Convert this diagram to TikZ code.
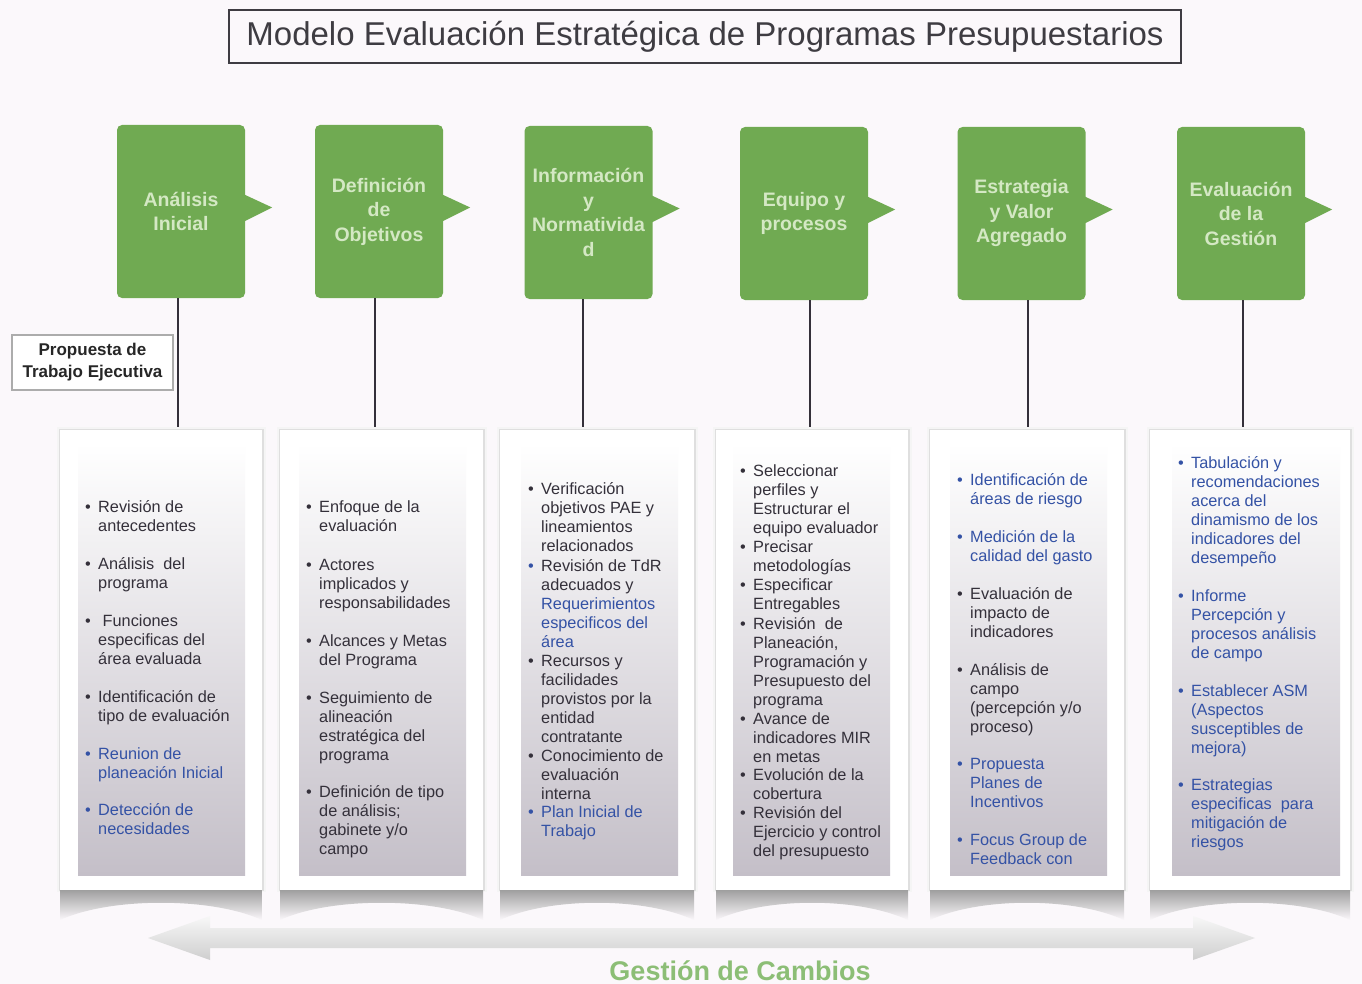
\documentclass[tikz,border=0pt]{standalone}
\usepackage{fontspec}
\setmainfont{Liberation Sans}
\usetikzlibrary{calc}
\definecolor{bg}{RGB}{251,248,251}
\definecolor{grn}{RGB}{112,170,82}
\definecolor{grntxt}{RGB}{212,232,196}
\definecolor{dk}{RGB}{52,48,58}
\definecolor{blu}{RGB}{52,82,165}
\definecolor{panelbot}{RGB}{196,191,200}
\definecolor{gc}{RGB}{140,190,118}
\definecolor{ttl}{RGB}{62,60,66}
\tikzset{
 gbox/.style={rectangle, rounded corners=5pt, fill=grn, minimum width=128pt, minimum height=173pt, inner sep=0pt, align=center, text=grntxt, font=\fontsize{19.5}{24.5}\selectfont\bfseries},
 itm/.style={anchor=north west, inner sep=0pt, text=dk, font=\fontsize{16.3}{19}\selectfont},
 stem/.style={line width=2.5pt, draw=dk},
}
\newcommand\itm[5]{\node[itm, text=#4] (#1) at (#2,#3-7.3) {\makebox[13pt][l]{\strut•}\parbox[t]{180pt}{\raggedright\strut #5}};}
\newcommand\callout[1]{\fill[grn] ($(#1.east)+(-1,-17)$) -- ($(#1.east)+(27,-4)$) -- ($(#1.east)+(-1,10)$) -- cycle;}
\newcommand\panel[4]{%
 \fill[gray!8] (#1-3.5,427) rectangle (#2+3.5,892);
 \fill[gray!25] (#1-1.5,429) rectangle (#2+1.5,891);
 \fill[white] (#1,430) rectangle (#2,890);
 \shade[top color=white, bottom color=panelbot] (#3,443) rectangle (#4,875);
 \shade[top color=gray!75, bottom color=bg] (#1,890) -- (#2,890) -- (#2,920) .. controls (#2-50,897) and (#1+50,897) .. (#1,920) -- cycle;
}
\begin{document}
\begin{tikzpicture}[x=1pt,y=-1pt]
\useasboundingbox (0,0) rectangle (1362,984);
\fill[bg] (0,0) rectangle (1362,984);

% title
\node[draw=ttl, line width=2pt, minimum width=952pt, minimum height=53pt, inner sep=0pt, text=ttl, font=\fontsize{33}{36}\selectfont] (title) at (705,36.5) {Modelo Evaluación Estratégica de Programas Presupuestarios};

% panels
\panel{60}{262}{78}{245}
\panel{280}{483}{299}{466}
\panel{500}{694}{521}{678}
\panel{716}{908}{733}{890}
\panel{930}{1124}{950}{1107}
\panel{1150}{1350}{1172}{1340}

% green boxes
\node[gbox] (g1) at (181,211.5) {Análisis\\Inicial};
\node[gbox] (g2) at (379,211.5) {Definición\\de\\Objetivos};
\node[gbox] (g3) at (588.5,212.5) {Información\\y\\Normativida\\d};
\node[gbox] (g4) at (804,213.5) {Equipo y\\procesos};
\node[gbox] (g5) at (1021.5,213.5) {Estrategia\\y Valor\\Agregado};
\node[gbox] (g6) at (1241,213.5) {Evaluación\\de la\\Gestión};
\callout{g1}\callout{g2}\callout{g3}\callout{g4}\callout{g5}\callout{g6}

% stems
\coordinate (s1) at (178,427);
\coordinate (s2) at (375,427);
\coordinate (s3) at (583,427);
\coordinate (s4) at (810,427);
\coordinate (s5) at (1028,427);
\coordinate (s6) at (1243,427);
\draw[stem] (g1.south -| s1) -- (s1);
\draw[stem] (g2.south -| s2) -- (s2);
\draw[stem] (g3.south -| s3) -- (s3);
\draw[stem] (g4.south -| s4) -- (s4);
\draw[stem] (g5.south -| s5) -- (s5);
\draw[stem] (g6.south -| s6) -- (s6);

% propuesta
\node[draw=gray!65, line width=1.5pt, fill=white, minimum width=161pt, minimum height=55pt, inner sep=0pt, align=center, text=black!85, font=\fontsize{17}{22}\selectfont\bfseries] (prop) at (92.5,362.5) {Propuesta de\\Trabajo Ejecutiva};

% column 1
\itm{a1}{85}{506}{dk}{Revisión de\\antecedentes}
\itm{a2}{85}{563}{dk}{Análisis\ \ del\\programa}
\itm{a3}{85}{620}{dk}{\ Funciones\\especificas del\\área evaluada}
\itm{a4}{85}{696}{dk}{Identificación de\\tipo de evaluación}
\itm{a5}{85}{753}{blu}{Reunion de\\planeación Inicial}
\itm{a6}{85}{809}{blu}{Detección de\\necesidades}
% column 2
\itm{b1}{306}{506}{dk}{Enfoque de la\\evaluación}
\itm{b2}{306}{564}{dk}{Actores\\implicados y\\responsabilidades}
\itm{b3}{306}{640}{dk}{Alcances y Metas\\del Programa}
\itm{b4}{306}{697}{dk}{Seguimiento de\\alineación\\estratégica del\\programa}
\itm{b5}{306}{791}{dk}{Definición de tipo\\de análisis;\\gabinete y/o\\campo}
% column 3
\itm{c1}{528}{488}{dk}{Verificación\\objetivos PAE y\\lineamientos\\relacionados}
\node[itm] (c2) at (528,565-7.3) {\makebox[13pt][l]{\strut\color{blu}•}\parbox[t]{180pt}{\raggedright\strut Revisión de TdR\\adecuados y\\\leavevmode\color{blu}Requerimientos\\especificos del\\área}};
\itm{c3}{528}{660}{dk}{Recursos y\\facilidades\\provistos por la\\entidad\\contratante}
\itm{c4}{528}{755}{dk}{Conocimiento de\\evaluación\\interna}
\itm{c5}{528}{811}{blu}{Plan Inicial de\\Trabajo}
% column 4
\itm{d1}{740}{470}{dk}{Seleccionar\\perfiles y\\Estructurar el\\equipo evaluador}
\itm{d2}{740}{546}{dk}{Precisar\\metodologías}
\itm{d3}{740}{584}{dk}{Especificar\\Entregables}
\itm{d4}{740}{623}{dk}{Revisión\ \ de\\Planeación,\\Programación y\\Presupuesto del\\programa}
\itm{d5}{740}{718}{dk}{Avance de\\indicadores MIR\\en metas}
\itm{d6}{740}{774}{dk}{Evolución de la\\cobertura}
\itm{d7}{740}{812}{dk}{Revisión del\\Ejercicio y control\\del presupuesto}
% column 5
\itm{e1}{957}{479}{blu}{Identificación de\\áreas de riesgo}
\itm{e2}{957}{536}{blu}{Medición de la\\calidad del gasto}
\itm{e3}{957}{593}{dk}{Evaluación de\\impacto de\\indicadores}
\itm{e4}{957}{669}{dk}{Análisis de\\campo\\(percepción y/o\\proceso)}
\itm{e5}{957}{763}{blu}{Propuesta\\Planes de\\Incentivos}
\itm{e6}{957}{839}{blu}{Focus Group de\\Feedback con}
% column 6
\itm{f1}{1178}{462}{blu}{Tabulación y\\recomendaciones\\acerca del\\dinamismo de los\\indicadores del\\desempeño}
\itm{f2}{1178}{595}{blu}{Informe\\Percepción y\\procesos análisis\\de campo}
\itm{f3}{1178}{690}{blu}{Establecer ASM\\(Aspectos\\susceptibles de\\mejora)}
\itm{f4}{1178}{784}{blu}{Estrategias\\especificas\ \ para\\mitigación de\\riesgos}

% bottom arrow
\shade[top color=gray!6, bottom color=gray!38] (148,938) -- (210,916) -- (210,928) -- (1193,928) -- (1193,916) -- (1255,938) -- (1193,960) -- (1193,948) -- (210,948) -- (210,960) -- cycle;
\node[anchor=base, inner sep=0pt, text=gc, font=\fontsize{27}{30}\selectfont\bfseries] (gest) at (740,980) {Gestión de Cambios};
\end{tikzpicture}
\end{document}
